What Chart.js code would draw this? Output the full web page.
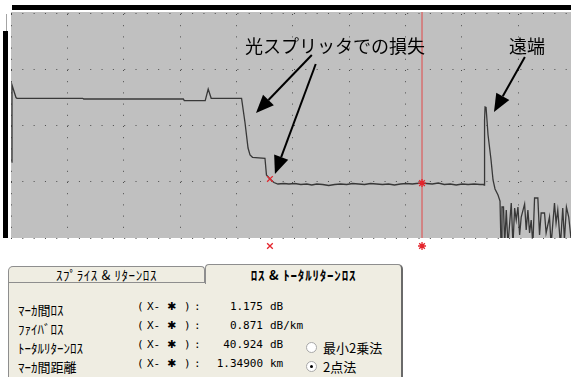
<!DOCTYPE html>
<html>
<head>
<meta charset="utf-8">
<script src="https://cdn.jsdelivr.net/npm/chart.js@4.4.1/dist/chart.umd.min.js"></script>
<style>
  html, body { margin: 0; padding: 0; background: #fff; width: 571px; height: 377px; overflow: hidden; }
  #wrap { position: absolute; left: 0; top: 0; width: 571px; height: 258px; overflow: hidden; }
  #otdr { position: absolute; left: 0; top: 0; }
  .box { position: absolute; box-sizing: border-box; }
  #tab1 { left: 8px; top: 266px; width: 197px; height: 17px; border: 1px solid #8e8e8e; border-bottom: none;
          border-radius: 5px 4px 0 0; background: #efede2; }
  #tab2 { left: 205px; top: 264px; width: 198px; height: 20px; border: 1px solid #8e8e8e; border-right: 2px solid #6a6a6a;
          border-bottom: none; border-radius: 4px 5px 0 0; background: #efede2; z-index: 2; }
  #pane { left: 8px; top: 282px; width: 395px; height: 120px; border-left: 1px solid #8e8e8e; border-top: 1px solid #8e8e8e;
          border-right: 2px solid #6a6a6a; background: #efede2; }
  .tabtxt { position: absolute; left: 0; right: 0; top: 0; text-align: center; font: 13px "Noto Sans CJK JP", sans-serif;
            line-height: 16px; color: #000; white-space: pre; }
  .t { position: absolute; white-space: pre; color: #000; line-height: 19px; }
  .jp { font: 13px "Noto Sans CJK JP", sans-serif; }
  .mono { font: 11px "DejaVu Sans Mono", monospace; }
  .star { font: bold 11px "DejaVu Sans", sans-serif; }
  .radio { position: absolute; width: 11px; height: 11px; box-sizing: border-box; border-radius: 50%;
           border: 1px solid #a8a8a8; background: #fff; }
  .radio.on::after { content: ""; position: absolute; left: 3px; top: 3px; width: 3px; height: 3px; border-radius: 50%; background: #000; }
</style>
</head>
<body>
<div id="wrap"><canvas id="otdr" width="580" height="258"></canvas></div>
<div id="tab1" class="box"></div>
<div id="pane" class="box"></div>
<div id="tab2" class="box"></div>
<div id="readout"></div>
<script>
// OTDR trace: distance (km) and relative level (dB)
const traceKm = [
  0.0044, 0.0088, 0.0442, 0.053, 0.636, 0.6449, 1.5283, 1.5371, 1.7226, 1.7491,
  1.7756, 2.0451, 2.076, 2.1025, 2.1201, 2.1422, 2.2527, 2.2659, 2.2968, 2.3322,
  2.3675, 2.4205, 2.4647, 2.5177, 2.5707, 2.6237, 2.6678, 2.712, 2.765, 2.818,
  2.871, 2.924, 2.977, 3.03, 3.083, 3.136, 3.189, 3.242, 3.2951, 3.3481,
  3.4011, 3.4541, 3.5071, 3.5601, 3.5954, 3.6458, 3.6837, 3.7367, 3.7898, 3.8428,
  3.8958, 3.9488, 4.0018, 4.0548, 4.1078, 4.1608, 4.1917, 4.1961, 4.2005, 4.2049,
  4.2138, 4.2314, 4.258, 4.2756, 4.2933, 4.3198, 4.3375, 4.3463, 4.3551, 4.3684,
  4.379, 4.3931, 4.4081, 4.4373, 4.4523, 4.4673, 4.4814, 4.4965, 4.5115, 4.5256,
  4.5557, 4.5698, 4.5848, 4.5998, 4.614, 4.629, 4.644, 4.6731, 4.6882, 4.7023,
  4.7323, 4.7465, 4.7765, 4.7906, 4.8207, 4.8348, 4.8498, 4.8737, 4.894, 4.909,
  4.9267, 4.947, 4.9735, 5.0
];
const traceDb = [
  21.71, 43.71, 40.14, 39.91, 39.91, 39.71, 39.71, 39.23, 39.23, 42.57,
  39.91, 39.91, 32.86, 25.71, 23.71, 23.06, 22.77, 18.0, 16.86, 15.86,
  15.43, 15.57, 15.43, 15.57, 15.29, 15.43, 15.14, 15.43, 15.29, 15.0,
  15.29, 15.43, 15.29, 15.57, 15.43, 15.29, 15.57, 15.43, 15.29, 15.43,
  15.14, 15.43, 15.57, 15.43, 15.57, 15.685, 15.57, 15.43, 15.71, 15.29,
  15.43, 15.14, 15.43, 15.29, 15.43, 15.29, 15.34, 15.14, 33.71, 37.43,
  37.29, 29.43, 22.29, 16.57, 14.0, 12.29, 10.57, -2, 8.86, 8.86,
  -2, 8.0, -2, 10.0, -2, 8.57, 5.14, 8.86, 0.86, 6.0,
  9.71, 2.29, 8.0, 1.43, 5.14, -2, 11.43, 11.43, 0.86, 7.14,
  7.14, 1.43, 6.0, -2, 10.0, 4.29, 8.0, -2, 8.57, -0.57,
  8.86, 6.0, -2, 6.57
];

// Markers: X (splitter output) and * (cursor)
const markerKm = [2.2968, 3.6458];
const markerDb = [16.86, 15.685];
const markerStyle = ['crossRot', 'star'];

// Readout panel
const tabLabels = ['ｽﾌﾟﾗｲｽ & ﾘﾀｰﾝﾛｽ', 'ﾛｽ & ﾄｰﾀﾙﾘﾀｰﾝﾛｽ'];
const rowLabels = ['ﾏｰｶ間ﾛｽ', 'ﾌｧｲﾊﾞﾛｽ', 'ﾄｰﾀﾙﾘﾀｰﾝﾛｽ', 'ﾏｰｶ間距離'];
const rowValues = ['1.175', '0.871', '40.924', '1.34900'];
const rowUnits = ['dB', 'dB/km', 'dB', 'km'];
const methodLabels = ['最小2乗法', '2点法'];
const methodSelected = 1;

// Callout texts
const calloutSplitter = '光スプリッタでの損失';
const calloutFarEnd = '遠端';

const KM_MIN = 0, KM_MAX = 5, KM_STEP = 0.5;
const DB_MIN = 0, DB_MAX = 64.571, DB_STEP = 16;

const traceColor = '#383838';
const markerRed = '#e4242c';

// Gray trace window with the black level bars
const frame = {
  id: 'frame',
  beforeDraw(chart) {
    const { ctx, chartArea: a } = chart;
    ctx.save();
    ctx.fillStyle = '#c0c0c0';
    ctx.fillRect(a.left, a.top, chart.width - a.left, a.bottom - a.top);
    ctx.fillStyle = '#000';
    ctx.fillRect(12, 5, chart.width - 12, 5);
    ctx.fillRect(3, 31, 5, a.bottom - 31);
    ctx.fillStyle = '#a4a4a4';
    ctx.fillRect(6, 14, 1, 17);
    ctx.restore();
  }
};

function drawArrow(ctx, x1, y1, x2, y2) {
  const ang = Math.atan2(y2 - y1, x2 - x1);
  const len = 18, half = 7.5;
  const bx = x2 - len * Math.cos(ang), by = y2 - len * Math.sin(ang);
  ctx.beginPath();
  ctx.moveTo(x1, y1);
  ctx.lineTo(bx, by);
  ctx.stroke();
  ctx.beginPath();
  ctx.moveTo(x2, y2);
  ctx.lineTo(bx + half * Math.sin(ang), by - half * Math.cos(ang));
  ctx.lineTo(bx - half * Math.sin(ang), by + half * Math.cos(ang));
  ctx.closePath();
  ctx.fill();
}

// Marker row under the plot area, placed by the distance scale
const markerRuler = {
  id: 'markerRuler',
  afterDraw(chart) {
    const { ctx, chartArea: a, scales: { x } } = chart;
    ctx.save();
    ctx.strokeStyle = markerRed;
    ctx.fillStyle = markerRed;
    ctx.lineWidth = 1.3;
    markerKm.forEach((k, i) => {
      Chart.helpers.drawPoint(ctx, {
        pointStyle: markerStyle[i], radius: 4, borderWidth: 1.3, rotation: 0
      }, x.getPixelForValue(k), a.bottom + 8);
    });
    ctx.restore();
  }
};

// Arrows and captions pointing at the splitter step and the far-end reflection
const callouts = {
  id: 'callouts',
  afterDatasetsDraw(chart) {
    const { ctx, scales: { x, y } } = chart;
    const P = (k, d) => [x.getPixelForValue(k), y.getPixelForValue(d)];
    const arrows = [
      [[2.668, 52.29], [2.173, 35.71]],
      [[2.703, 49.71], [2.341, 18.29]],
      [[4.558, 51.71], [4.284, 36.0]]
    ];
    ctx.save();
    ctx.strokeStyle = '#000';
    ctx.fillStyle = '#000';
    ctx.lineWidth = 2;
    ctx.lineCap = 'butt';
    arrows.forEach(([f, t]) => {
      const [x1, y1] = P(f[0], f[1]);
      const [x2, y2] = P(t[0], t[1]);
      drawArrow(ctx, x1, y1, x2, y2);
    });
    ctx.font = '18px "Noto Sans CJK JP", sans-serif';
    ctx.textBaseline = 'middle';
    ctx.textAlign = 'left';
    let [tx, ty] = P(2.076, 54.86);
    ctx.fillText(calloutSplitter, tx, ty);
    ctx.textAlign = 'center';
    [tx, ty] = P(4.576, 54.86);
    ctx.fillText(calloutFarEnd, tx, ty);
    ctx.restore();
  }
};

new Chart(document.getElementById('otdr'), {
  type: 'line',
  data: {
    datasets: [
      {
        label: 'marker',
        data: markerKm.map((k, i) => ({ x: k, y: markerDb[i] })),
        showLine: false,
        pointStyle: markerStyle,
        pointRadius: 4,
        pointBorderColor: markerRed,
        pointBackgroundColor: markerRed,
        pointBorderWidth: 1.3,
        order: 0
      },
      {
        label: 'trace',
        data: traceKm.map((k, i) => ({ x: k, y: traceDb[i] })),
        borderColor: traceColor,
        borderWidth: 1.3,
        pointRadius: 0,
        tension: 0,
        order: 1
      },
      {
        label: 'cursor',
        data: [{ x: markerKm[1], y: DB_MIN }, { x: markerKm[1], y: DB_MAX }],
        borderColor: '#e24848',
        borderWidth: 1,
        pointRadius: 0,
        order: 2
      }
    ]
  },
  options: {
    responsive: false,
    animation: false,
    devicePixelRatio: 1,
    layout: { padding: { left: 11, right: 3, top: 12, bottom: 20 } },
    plugins: { legend: { display: false }, tooltip: { enabled: false } },
    scales: {
      x: {
        type: 'linear', min: KM_MIN, max: KM_MAX,
        ticks: { display: false, stepSize: KM_STEP },
        grid: { color: '#4c4c4c', lineWidth: 1, drawTicks: false },
        border: { display: false, dash: [1, 10.2], dashOffset: 9.2 }
      },
      y: {
        type: 'linear', min: DB_MIN, max: DB_MAX,
        ticks: { display: false, stepSize: DB_STEP, includeBounds: false },
        grid: { color: '#4c4c4c', lineWidth: 1, drawTicks: false },
        border: { display: false, dash: [1, 10.32] }
      }
    }
  },
  plugins: [frame, callouts, markerRuler]
});

// Readout panel under the trace
function put(parent, text, left, top, cls, extra) {
  const el = document.createElement('div');
  el.className = 't ' + cls;
  el.textContent = text;
  el.style.left = left + 'px';
  el.style.top = top + 'px';
  if (extra) Object.assign(el.style, extra);
  parent.appendChild(el);
  return el;
}
const t1 = document.createElement('div');
t1.className = 'tabtxt';
t1.style.letterSpacing = '0.6px';
t1.textContent = tabLabels[0];
document.getElementById('tab1').appendChild(t1);
const t2 = document.createElement('div');
t2.className = 'tabtxt';
t2.style.fontWeight = 'bold';
t2.style.letterSpacing = '0.8px';
t2.style.top = '2px';
t2.textContent = tabLabels[1];
document.getElementById('tab2').appendChild(t2);

const ro = document.getElementById('readout');
const rowTop = [300, 319, 338, 357];
rowLabels.forEach((lab, i) => {
  const top = rowTop[i];
  put(ro, lab, 18, top, 'jp');
  put(ro, '(', 137, top, 'mono');
  put(ro, 'X-', 147, top, 'mono');
  put(ro, '✱', 167, top, 'star');
  put(ro, ')', 184, top, 'mono');
  put(ro, ':', 194, top, 'mono');
  put(ro, rowValues[i], 200, top, 'mono', { width: '63px', textAlign: 'right' });
  put(ro, rowUnits[i], 270, top, 'mono');
});
methodLabels.forEach((lab, j) => {
  const top = rowTop[2 + j];
  const r = document.createElement('div');
  r.className = 'radio' + (j === methodSelected ? ' on' : '');
  r.style.left = '306px';
  r.style.top = (top + 4) + 'px';
  ro.appendChild(r);
  put(ro, lab, 323, top, 'jp');
});
</script>
</body>
</html>
